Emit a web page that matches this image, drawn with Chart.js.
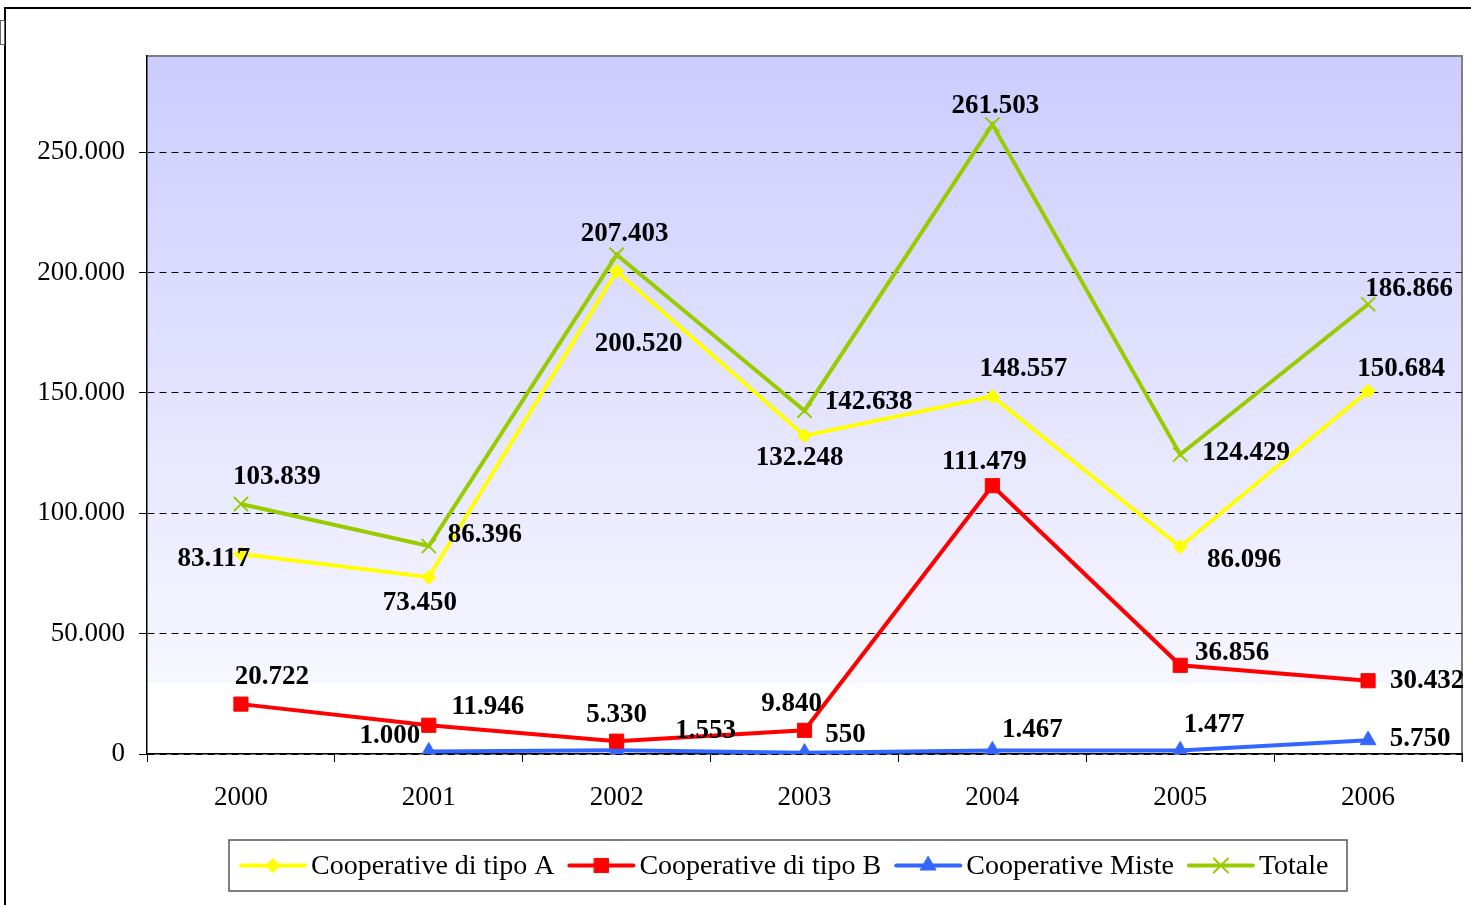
<!DOCTYPE html>
<html lang="it">
<head>
  <meta charset="UTF-8">
  <title>Cooperative 2000-2006</title>
  <script src="https://cdn.jsdelivr.net/npm/chart.js"></script>
  <style>
    html, body { margin: 0; padding: 0; background: #fff; }
    #wrap { width: 1471px; height: 905px; position: relative; }
  </style>
</head>
<body>
  <div id="wrap">
    <canvas id="chart" width="1471" height="905"></canvas>
  </div>

  <script>
    const years = ['2000', '2001', '2002', '2003', '2004', '2005', '2006'];
    const tipoA = [83117, 73450, 200520, 132248, 148557, 86096, 150684];
    const tipoB = [20722, 11946, 5330, 9840, 111479, 36856, 30432];
    const miste = [null, 1000, 1553, 550, 1467, 1477, 5750];
    const totale = [103839, 86396, 207403, 142638, 261503, 124429, 186866];
    const yTicks = [0, 50000, 100000, 150000, 200000, 250000];

    const FONT = "'Liberation Serif', 'Times New Roman', serif";

    // label offsets from each point (dx, dy), per dataset
    const labelOffsets = [
      [[-27, 5], [-9, 26], [22, 73], [-5, 22], [31, -27], [64, 13], [33, -22]],
      [[31, -27], [59, -18], [0, -26], [-13, -26], [-8, -24], [52, -12], [59, 0]],
      [null, [-39, -16], [89, -19], [41, -18], [40, -20], [34, -25], [52, -1]],
      [[36, -27], [56, -11], [8, -21], [64, -9], [3, -19], [66, -1], [41, -15]]
    ];

    function fmt(v) {
      return String(v).replace(/\B(?=(\d{3})+(?!\d))/g, '.');
    }

    const frame = {
      id: 'frame',
      beforeDraw(chart) {
        const { ctx, chartArea: a } = chart;
        ctx.save();
        ctx.fillStyle = '#fff';
        ctx.fillRect(0, 0, chart.width, chart.height);
        // outer border
        ctx.strokeStyle = '#000';
        ctx.lineWidth = 2;
        ctx.strokeRect(5, 8, chart.width + 10, chart.height + 10);
        ctx.lineWidth = 1;
        ctx.strokeStyle = '#666';
        ctx.strokeRect(0.5, 20.5, 4, 24);
        // plot background
        const g = ctx.createLinearGradient(0, a.top, 0, a.bottom);
        const cut = (683 - a.top) / (a.bottom - a.top);
        g.addColorStop(0, '#ccccff');
        g.addColorStop(cut, '#f7f7ff');
        g.addColorStop(cut, '#ffffff');
        g.addColorStop(1, '#ffffff');
        ctx.fillStyle = g;
        ctx.fillRect(a.left, a.top, a.right - a.left, a.bottom - a.top);
        ctx.strokeStyle = '#808080';
        ctx.lineWidth = 2;
        ctx.beginPath();
        ctx.moveTo(a.left, a.top);
        ctx.lineTo(a.right, a.top);
        ctx.lineTo(a.right, a.bottom + 8);
        ctx.stroke();
        ctx.restore();
      },
      afterDatasetsDraw(chart) {
        const { ctx } = chart;
        ctx.save();
        ctx.font = 'bold 27px ' + FONT;
        ctx.fillStyle = '#000';
        ctx.textAlign = 'center';
        ctx.textBaseline = 'middle';
        chart.data.datasets.forEach((ds, di) => {
          const meta = chart.getDatasetMeta(di);
          meta.data.forEach((pt, i) => {
            const v = ds.data[i];
            const off = labelOffsets[di][i];
            if (v == null || !off) return;
            ctx.fillText(fmt(v), pt.x + off[0], pt.y + off[1]);
          });
        });
        ctx.restore();
      },
      afterDraw(chart) {
        const { ctx } = chart;
        const box = { x: 229, y: 840, w: 1118, h: 51 };
        ctx.save();
        ctx.fillStyle = '#fff';
        ctx.fillRect(box.x, box.y, box.w, box.h);
        ctx.strokeStyle = '#555';
        ctx.lineWidth = 1.5;
        ctx.strokeRect(box.x, box.y, box.w, box.h);
        ctx.font = '28px ' + FONT;
        ctx.textBaseline = 'middle';
        const lineLen = 64, gapText = 6, gapItem = 15;
        const ds = chart.data.datasets;
        let x = box.x + 12;
        const cy = box.y + box.h / 2;
        ds.forEach((d) => {
          ctx.strokeStyle = d.borderColor;
          ctx.lineWidth = 4;
          ctx.lineCap = 'round';
          ctx.beginPath();
          ctx.moveTo(x, cy);
          ctx.lineTo(x + lineLen, cy);
          ctx.stroke();
          ctx.fillStyle = d.pointBackgroundColor;
          ctx.strokeStyle = d.borderColor;
          ctx.lineWidth = d.pointBorderWidth;
          Chart.helpers.drawPoint(ctx, {
            pointStyle: d.pointStyle,
            radius: d.pointRadius,
            borderWidth: d.pointBorderWidth
          }, x + lineLen / 2, cy);
          ctx.fillStyle = '#000';
          ctx.fillText(d.label, x + lineLen + gapText, cy + 1);
          x += lineLen + gapText + ctx.measureText(d.label).width + gapItem;
        });
        ctx.restore();
      }
    };

    function series(label, data, color, style, radius, bw) {
      return {
        label, data,
        borderColor: color,
        backgroundColor: color,
        pointBackgroundColor: color,
        pointBorderColor: color,
        pointStyle: style,
        pointRadius: radius,
        pointHoverRadius: radius,
        pointBorderWidth: bw,
        borderWidth: 4,
        tension: 0,
        fill: false
      };
    }

    const chart = new Chart(document.getElementById('chart'), {
      type: 'line',
      data: {
        labels: years,
        datasets: [
          series('Cooperative di tipo A', tipoA, '#ffff00', 'rectRot', 7, 1),
          series('Cooperative di tipo B', tipoB, '#ff0000', 'rect', 10, 1),
          series('Cooperative Miste', miste, '#3366ff', 'triangle', 9, 1),
          series('Totale', totale, '#99cc00', 'crossRot', 10, 2)
        ]
      },
      options: {
        responsive: false,
        animation: false,
        devicePixelRatio: 1,
        layout: { autoPadding: false, padding: { top: 56, right: 9, bottom: 71, left: 0 } },
        plugins: {
          legend: { display: false },
          tooltip: { enabled: false }
        },
        scales: {
          x: {
            offset: true,
            grid: {
              offset: true,
              drawOnChartArea: false,
              drawTicks: true,
              tickLength: 8,
              color: '#000'
            },
            border: { color: '#000', width: 1.5 },
            ticks: {
              color: '#000',
              padding: 20,
              font: { family: FONT, size: 27 }
            },
            afterFit(s) { s.height = 80; }
          },
          y: {
            min: 0,
            max: 290000,
            grid: {
              color: '#000',
              lineWidth: 1,
              tickLength: 8,
              drawTicks: true
            },
            border: { color: '#000', width: 1.5, dash: [7, 5] },
            ticks: {
              color: '#000',
              padding: 14,
              font: { family: FONT, size: 27 },
              callback: v => fmt(v)
            },
            afterBuildTicks(s) { s.ticks = yTicks.map(v => ({ value: v })); },
            afterFit(s) { s.width = 147; }
          }
        }
      },
      plugins: [frame]
    });
  </script>
</body>
</html>
